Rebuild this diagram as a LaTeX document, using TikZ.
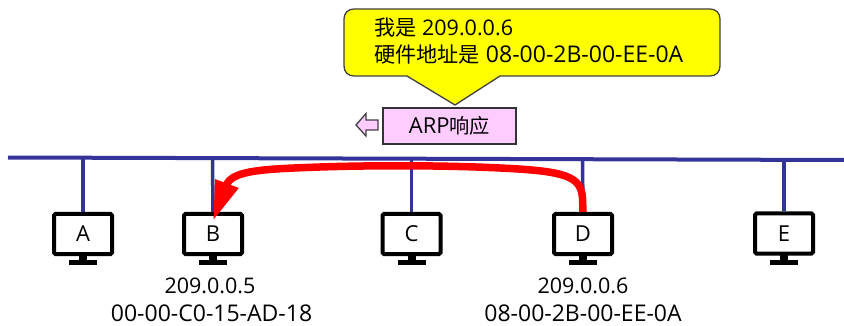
\documentclass[tikz,border=0pt]{standalone}
\usepackage{fontspec}
\setmainfont{Open Sans}
\newfontfamily\cjk[Scale=0.92]{Noto Sans CJK SC}
\usetikzlibrary{arrows.meta}
\definecolor{busblue}{HTML}{333399}
\definecolor{pinkbox}{HTML}{FFCCFF}
\definecolor{calloutyellow}{rgb}{1,1,0}
\tikzset{
  txt/.style={font=\fontsize{23}{23}\selectfont,inner sep=0pt,text=black},
  iptxt/.style={font=\fontsize{21.5}{22}\selectfont,inner sep=0pt,text=black},
  busline/.style={draw=busblue,line width=4pt},
  stub/.style={draw=busblue,line width=3.5pt},
  monitor/.style={draw=black,line width=4pt,rounded corners=1.5pt,fill=white,minimum width=58pt,minimum height=40pt,inner sep=0pt,font=\fontsize{22}{22}\selectfont},
  standpart/.style={fill=black,draw=none},
  redarrow/.style={draw=red,line width=7.5pt},
  outlined/.style={draw=black!75,line width=1.3pt},
}
\newcommand{\computer}[4]{%
  \node[monitor] (#1) at (#2,#3) {#4};
  \fill[standpart] (#2-4,#3+21) rectangle (#2+4,#3+27);
  \fill[standpart] (#2-14,#3+26) rectangle (#2+14,#3+31);
}
\begin{document}
\begin{tikzpicture}[x=1pt,y=-1pt]
\useasboundingbox (0,0) rectangle (844,326);
% bus
\coordinate (busL) at (8,157.5);
\coordinate (busR) at (844,160);
\draw[busline] (busL) -- (busR);
\foreach \n/\x/\y in {ba/83/158,bb/212.5/158,bc/411.5/159,bd/582.5/159,be/784/159.5}{\coordinate (\n) at (\x,\y);}
% computers
\computer{A}{83}{234}{A}
\computer{B}{213}{234}{B}
\computer{C}{411.5}{234}{C}
\computer{D}{583}{234}{D}
\computer{E}{784}{233.5}{E}
\draw[stub] (ba) -- (A.north);
\draw[stub] (bb) -- (B.north);
\draw[stub] (bc) -- (C.north);
\draw[stub] (bd) -- (D.north);
\draw[stub] (be) -- (E.north);
% red arrow
\coordinate (tip) at (213,221);
\draw[redarrow,-{Triangle[length=40pt,width=23pt]}] (D.north) -- ++(-0.5,-14) .. controls (581,176) and (565,171) .. (500,168) .. controls (450,165.5) and (380,165) .. (320,167) .. controls (265,169) and (232,170) .. (tip);
% callout
\draw[outlined,fill=calloutyellow,line join=round] (354,9) -- (710,9) .. controls (716,9) and (720,13) .. (720,19) -- (720,66) .. controls (720,72) and (716,76) .. (710,76) -- (500,76) -- (455,105) -- (407,76) -- (354,76) .. controls (348,76) and (344,72) .. (344,66) -- (344,19) .. controls (344,13) and (348,9) .. (354,9) -- cycle;
\node[iptxt,anchor=west] (l1) at (374,28) {{\cjk\fontsize{23}{23}\selectfont 我是} 209.0.0.6};
\node[txt,anchor=west] (l2) at (374,54) {{\cjk 硬件地址是} 08-00-2B-00-EE-0A};
% ARP box
\node[draw=black!80,line width=1.3pt,fill=pinkbox,minimum width=133pt,minimum height=36pt,inner sep=0pt,font=\fontsize{22}{22}\selectfont] (arp) at (449.5,126) {ARP{\cjk 响应}};
\draw[outlined,fill=pinkbox,line join=miter] (356,125) -- (366,113.5) -- (366,120) -- (378,120) -- (378,130) -- (366,130) -- (366,136) -- cycle;
% addresses
\node[iptxt] (ipb) at (210,286) {209.0.0.5};
\node[txt] (macb) at (211.5,313) {00-00-C0-15-AD-18};
\node[iptxt] (ipd) at (583,286) {209.0.0.6};
\node[txt] (macd) at (583,313) {08-00-2B-00-EE-0A};
\end{tikzpicture}
\end{document}
